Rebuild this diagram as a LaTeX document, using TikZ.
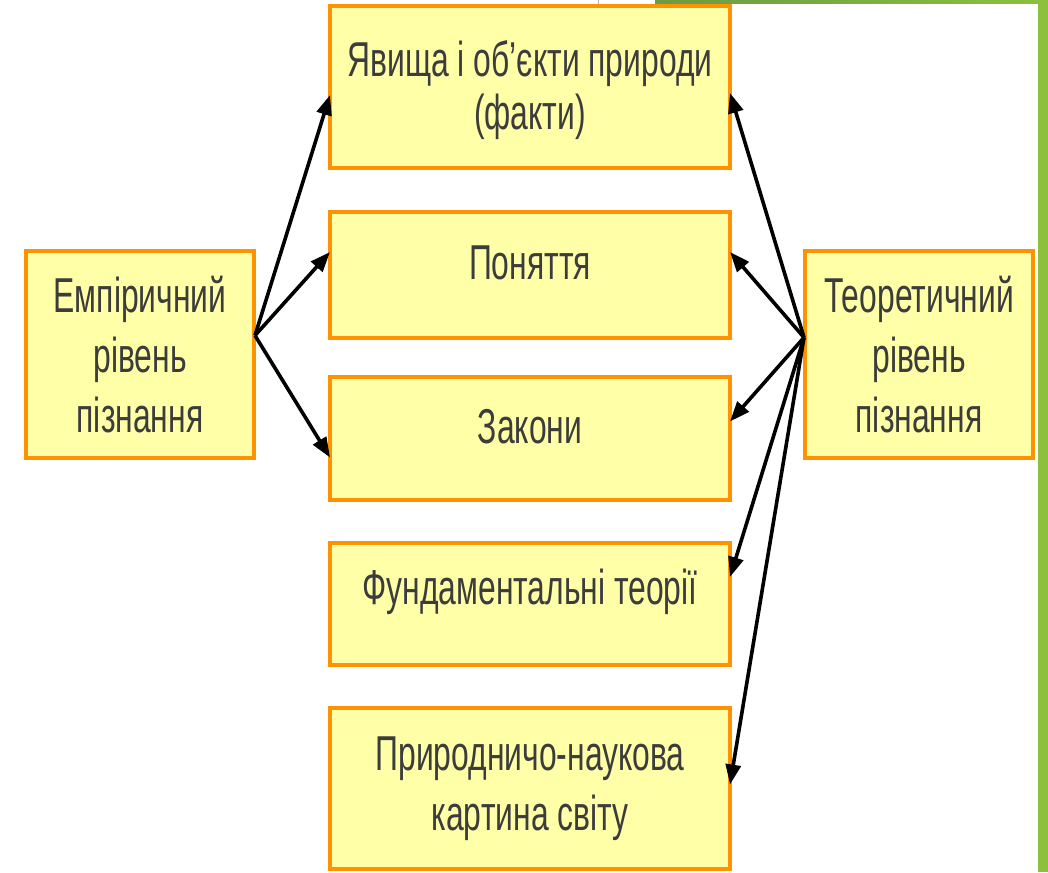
\documentclass[tikz,border=0pt]{standalone}
\usepackage{fontspec}
\setmainfont[FakeStretch=0.65]{Liberation Sans}
\usetikzlibrary{arrows.meta,calc}
\definecolor{boxfill}{HTML}{FFFFA8}
\definecolor{boxline}{HTML}{FF9200}
\definecolor{txt}{HTML}{3C3C3C}
\definecolor{grA}{HTML}{6A9A45}
\definecolor{grB}{HTML}{8DC03C}
\newcommand{\up}[1]{\raisebox{12pt}[\height][\depth]{#1}}
\begin{document}
\begin{tikzpicture}[x=1pt,y=-1pt,
  knot/.style={rectangle,draw=boxline,fill=boxfill,line width=4.5pt,inner sep=0pt,outer sep=0pt,
    align=center,text=txt,font=\fontsize{49}{60}\selectfont},
  arr/.style={draw=black,line width=3.6pt,-{Triangle[length=20pt,width=15pt]}}]
\useasboundingbox (0,0) rectangle (1048,872);
\fill[white] (0,0) rectangle (1048,872);
% decorative green frame parts
\fill[left color=grA,right color=grB] (655,0) rectangle (1048,4);
\fill[grB] (1038,0) rectangle (1048,872);
\draw[gray!60,line width=1pt] (598,0) -- (598,5);
% boxes
\node[knot,minimum width=400pt,minimum height=162pt] (b1) at (530,87) {\raisebox{-3pt}[\height][\depth]{\shortstack{Явища і об'єкти природи\\[4pt](факти)}}};
\node[knot,minimum width=400pt,minimum height=126pt] (b2) at (530,275) {\up{Поняття}};
\node[knot,minimum width=400pt,minimum height=123pt] (b3) at (530,438.5) {\up{Закони}};
\node[knot,minimum width=400pt,minimum height=122pt] (b4) at (530,604) {\up{Фундаментальні теорії}};
\node[knot,minimum width=400pt,minimum height=161pt] (b5) at (530,788.5) {Природничо-наукова\\картина світу};
\node[knot,minimum width=228pt,minimum height=207pt] (lft) at (140,354.5) {Емпіричний\\рівень\\пізнання};
\node[knot,minimum width=228pt,minimum height=207pt] (rgt) at (919,354.5) {Теоретичний\\рівень\\пізнання};
% origins of arrows
\coordinate (lo) at ($(lft.east)+(1,-19)$);
\coordinate (ro) at ($(rgt.west)+(-1,-17)$);
% left arrows
\draw[arr] (lo) -- ($(b1.west)+(0,8)$);
\draw[arr] (lo) -- ($(b2.west)+(0,-23)$);
\draw[arr] (lo) -- ($(b3.west)+(0,19)$);
% right arrows
\draw[arr] (ro) -- ($(b1.east)+(0,6)$);
\draw[arr] (ro) -- ($(b2.east)+(0,-23)$);
\draw[arr] (ro) -- ($(b3.east)+(0,-17)$);
\draw[arr] (ro) -- ($(b4.east)+(0,-27)$);
\draw[arr] (ro) -- ($(b5.east)+(0,-4)$);
\end{tikzpicture}
\end{document}
